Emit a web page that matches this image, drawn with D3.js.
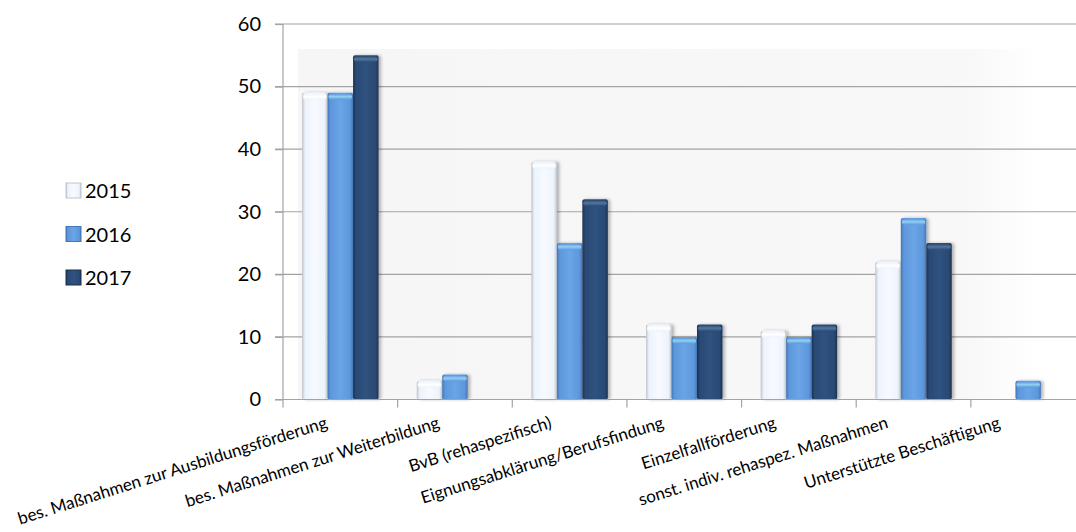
<!DOCTYPE html>
<html><head><meta charset="utf-8">
<script src="https://cdn.jsdelivr.net/npm/d3@7"></script>
<style>html,body{margin:0;padding:0;background:#fff;}svg{display:block;}</style>
</head><body>
<svg id="chart" width="1076" height="532"></svg>
<script>
const categories = [
  "bes. Maßnahmen zur Ausbildungsförderung",
  "bes. Maßnahmen zur Weiterbildung",
  "BvB (rehaspezifisch)",
  "Eignungsabklärung/Berufsfindung",
  "Einzelfallförderung",
  "sonst. indiv. rehaspez. Maßnahmen",
  "Unterstützte Beschäftigung"
];
const seriesNames = ["2015", "2016", "2017"];
const values2015 = [49, 3, 38, 12, 11, 22, 0];
const values2016 = [49, 4, 25, 10, 10, 29, 3];
const values2017 = [55, 0, 32, 12, 12, 25, 0];
const yTicks = [0, 10, 20, 30, 40, 50, 60];

(function() {
const seriesValues = [values2015, values2016, values2017];
const svg = d3.select("#chart");
const W = 1076;
const pLeft = 283, pRight = 1085.5, pTop = 24, pBottom = 399.5;

const x = d3.scaleBand().domain(categories).range([pLeft, pRight]).padding(0);
const x1 = d3.scaleBand().domain(seriesNames).range([0, x.bandwidth()]).paddingInner(0).paddingOuter(0.75);
const y = d3.scaleLinear().domain([0, 60]).range([pBottom, pTop]);

const defs = svg.append("defs");
const palettes = {
  "2015": {edge: "#bfc4cc", mid: "#edf3fc", light: "#f7faff", cap: "#ffffff"},
  "2016": {edge: "#4377b6", mid: "#5e97dc", light: "#6aa5e6", cap: "#8fd0f6"},
  "2017": {edge: "#1b3252", mid: "#2a4a73", light: "#2f5280", cap: "#55779f"}
};
seriesNames.forEach(s => {
  const p = palettes[s];
  const g = defs.append("linearGradient").attr("id", "g" + s).attr("x1", "0").attr("x2", "1").attr("y1", "0").attr("y2", "0");
  g.append("stop").attr("offset", "0").attr("stop-color", p.edge);
  g.append("stop").attr("offset", "0.12").attr("stop-color", p.mid);
  g.append("stop").attr("offset", "0.5").attr("stop-color", p.light);
  g.append("stop").attr("offset", "0.88").attr("stop-color", p.mid);
  g.append("stop").attr("offset", "1").attr("stop-color", p.edge);
  const c = defs.append("linearGradient").attr("id", "c" + s).attr("x1", "0").attr("x2", "0").attr("y1", "0").attr("y2", "1");
  c.append("stop").attr("offset", "0").attr("stop-color", p.mid);
  c.append("stop").attr("offset", "0.45").attr("stop-color", p.cap);
  c.append("stop").attr("offset", "1").attr("stop-color", p.mid);
});
const sh = defs.append("filter").attr("id", "shadow").attr("x", "-20%").attr("y", "-10%").attr("width", "150%").attr("height", "120%");
sh.append("feDropShadow").attr("dx", 2.5).attr("dy", 0).attr("stdDeviation", 1.5).attr("flood-color", "#000").attr("flood-opacity", 0.28);

// back wall panel
const bg = defs.append("linearGradient").attr("id", "bgGrad").attr("x1", "0").attr("x2", "1");
bg.append("stop").attr("offset", "0").attr("stop-color", "#f6f6f6");
bg.append("stop").attr("offset", "0.9").attr("stop-color", "#f8f8f8");
bg.append("stop").attr("offset", "1").attr("stop-color", "#ffffff");
svg.append("rect").attr("x", x(categories[0]) + 15).attr("y", y(56))
  .attr("width", x(categories[6]) + x.bandwidth() * 0.6 - x(categories[0]) - 15)
  .attr("height", y(0) - y(56)).attr("fill", "url(#bgGrad)");

// gridlines
svg.append("g").selectAll("line").data(yTicks.filter(d => d > 0)).join("line")
  .attr("x1", pLeft - 8).attr("x2", W).attr("y1", d => y(d)).attr("y2", d => y(d))
  .attr("stroke", "#a3a3a3").attr("stroke-width", 1.2);

// y axis
const yAxis = svg.append("g").attr("transform", `translate(${pLeft},0)`)
  .call(d3.axisLeft(y).tickValues(yTicks).tickSize(8).tickPadding(14).tickFormat(d3.format("d")));
yAxis.select(".domain").attr("stroke", "#a3a3a3").attr("stroke-width", 1.2);
yAxis.selectAll(".tick line").attr("stroke", "#a3a3a3").attr("stroke-width", 1.2);
yAxis.selectAll("text").attr("font-family", "Lato, 'Open Sans', sans-serif").attr("font-size", 20).attr("fill", "#000");
yAxis.select(".domain").attr("d", `M0,${y(60)}V${y(0) + 8}`);

// bars
const groups = svg.append("g").selectAll("g").data(categories).join("g")
  .attr("transform", d => `translate(${x(d)},0)`);
groups.each(function(cat, ci) {
  const g = d3.select(this);
  seriesNames.forEach((s, si) => {
    const v = seriesValues[si][ci];
    if (!v) return;
    const bx = x1(s), bw = x1.bandwidth();
    const bg2 = g.append("g").attr("filter", "url(#shadow)");
    bg2.append("rect").attr("x", bx).attr("y", y(v)).attr("width", bw).attr("height", y(0) - y(v))
      .attr("fill", `url(#g${s})`).attr("rx", 2);
    bg2.append("rect").attr("x", bx + 1).attr("y", y(v) + 1).attr("width", bw - 2).attr("height", 6)
      .attr("fill", `url(#c${s})`).attr("rx", 3);
  });
});

// x axis
svg.append("line").attr("x1", pLeft - 8).attr("x2", W).attr("y1", y(0)).attr("y2", y(0))
  .attr("stroke", "#a3a3a3").attr("stroke-width", 1.2);
svg.append("g").selectAll("line").data(categories.slice(1)).join("line")
  .attr("x1", d => x(d)).attr("x2", d => x(d)).attr("y1", y(0)).attr("y2", y(0) + 8)
  .attr("stroke", "#a3a3a3").attr("stroke-width", 1.2);

// category labels (rotated)
svg.append("g").selectAll("text").data(categories).join("text")
  .attr("transform", (d, i) => `translate(${x(d) + x.bandwidth() / 2 - 12 - 2.5 * i},${y(0) + 28}) rotate(-17.5)`)
  .attr("text-anchor", "end")
  .attr("font-family", "Lato, 'Open Sans', sans-serif").attr("font-size", 17).attr("fill", "#000")
  .text(d => d);

// legend
const legend = svg.append("g").selectAll("g").data(seriesNames).join("g")
  .attr("transform", (d, i) => `translate(66,${183 + i * 43.5})`);
legend.append("rect").attr("width", 15).attr("height", 15).attr("fill", d => `url(#g${d})`)
  .attr("stroke", d => palettes[d].edge).attr("stroke-width", 1);
legend.append("text").attr("x", 19).attr("y", 15).attr("font-family", "Lato, 'Open Sans', sans-serif")
  .attr("font-size", 20).attr("fill", "#000").text(d => d);
})();
</script>
</body></html>
